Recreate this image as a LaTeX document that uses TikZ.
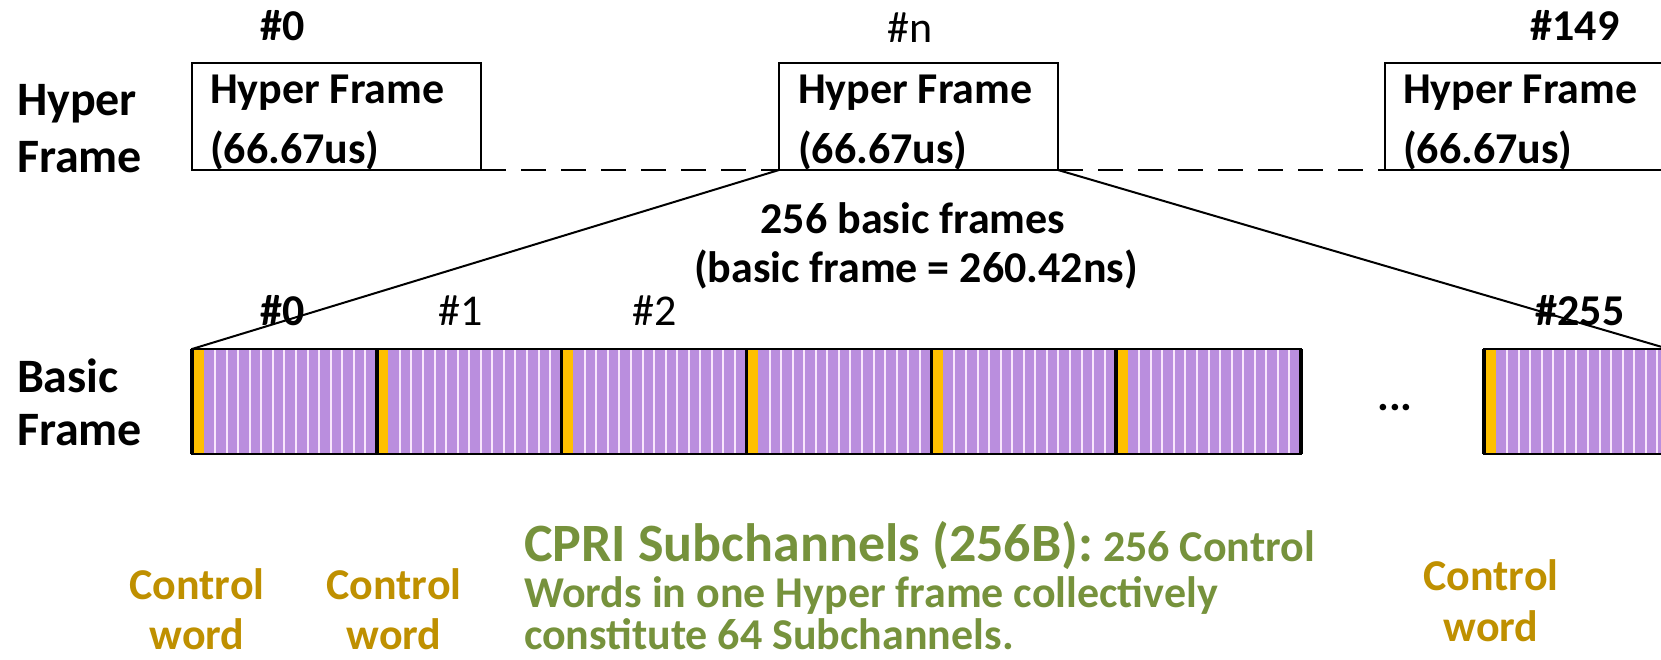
\documentclass[tikz,border=0pt]{standalone}
\usepackage{fontspec}
\setmainfont{Carlito}
\definecolor{wordpurple}{RGB}{186,142,222}
\definecolor{ctrlyellow}{RGB}{255,192,0}
\definecolor{stripe}{RGB}{248,230,252}
\definecolor{ctrlgold}{RGB}{191,144,0}
\definecolor{cprigreen}{RGB}{118,146,60}
\begin{document}
\begin{tikzpicture}[x=1pt,y=-1pt,
  every node/.style={inner sep=0pt,outer sep=0pt},
  big/.style={font=\fontsize{44}{53}\selectfont\bfseries},
  rowlabel/.style={font=\fontsize{48}{58}\selectfont\bfseries,anchor=base west},
  plain/.style={font=\fontsize{44}{53}\selectfont},
  hbox/.style={draw,line width=2.2pt,minimum height=107pt,anchor=north west},
  bframe/.style={fill=wordpurple,minimum width=184.83pt,minimum height=105pt,anchor=north west},
  conn/.style={line width=2pt},
  dashline/.style={line width=2.6pt,dash pattern=on 25pt off 15pt},
  gold/.style={big,text=ctrlgold,align=center},
  green/.style={big,text=cprigreen,anchor=base west}]
\useasboundingbox (0,0) rectangle (1661,659);
\clip (0,0) rectangle (1661,659);

% row titles
\node[rowlabel] (hyA) at (17,115) {Hyper};
\node[rowlabel] (hyB) at (17,172) {Frame};
\node[rowlabel] (baA) at (17,392) {Basic};
\node[rowlabel] (baB) at (17,445) {Frame};

% hyper frames
\node[hbox,minimum width=289pt] (hf0) at (192,63) {};
\node[hbox,minimum width=279pt] (hfn) at (779,63) {};
\node[hbox,minimum width=279pt] (hf149) at (1385,63) {};
\node[big,anchor=base] (hf0num) at (283,40) {\#0};
\node[plain,anchor=base] (hfnnum) at (910,42) {\#n};
\node[big,anchor=base] (hf149num) at (1575,40) {\#149};
\foreach \b/\x in {hf0/210,hfn/798,hf149/1403}{
  \node[big,anchor=base west] (\b t1) at (\x,103) {Hyper Frame};
  \node[big,anchor=base west] (\b t2) at (\x,163) {(66.67us)};
}
\draw[dashline] (hf0.south east) -- (hfn.south west);
\draw[dashline] (hfn.south east) -- (hf149.south west);

% basic frames: one control word followed by fifteen data words
\foreach \i in {0,...,5}{
  \node[bframe] (bf\i) at ({192+184.83*\i},349) {};
}
\node[bframe] (bf255) at (1484,349) {};
\foreach \n in {bf0,bf1,bf2,bf3,bf4,bf5,bf255}{
  \fill[ctrlyellow] (\n.north west) rectangle ([xshift=11.5]\n.south west);
  \foreach \k in {2,...,15}
    \fill[stripe] ([xshift={\k*11.552-1}]\n.north west) rectangle ([xshift={\k*11.552+1}]\n.south west);
}
\draw[line width=2pt] (bf0.north west) rectangle (bf5.south east);
\draw[line width=2pt] (bf255.south east) -- (bf255.south west) -- (bf255.north west) -- (bf255.north east);
\foreach \n in {bf0,bf1,bf2,bf3,bf4,bf5,bf255}
  \draw[line width=3.5pt] (\n.north west) -- (\n.south west);
\draw[line width=3.5pt] (bf5.north east) -- (bf5.south east);

\node[big,anchor=base] (bf0num) at (283,325) {\#0};
\node[plain,anchor=base] (bf1num) at (461,325) {\#1};
\node[plain,anchor=base] (bf2num) at (655,325) {\#2};
\node[big,anchor=base] (bf255num) at (1580,325) {\#255};
\node[big,anchor=base] (dots) at (1395,410) {...};

% zoom from hyper frame #n to its basic frames
\draw[conn] (hfn.south west) -- (bf0.north west);
\draw[conn] (hfn.south east) -- (bf255.north east);
\node[big,anchor=base] (cnt1) at (913,233) {256 basic frames};
\node[big,anchor=base] (cnt2) at (916,282) {(basic frame = 260.42ns)};

% control word captions
\node[gold,anchor=base] (cw1a) at (197,599) {Control};
\node[gold,anchor=base] (cw1b) at (197,649) {word};
\node[gold,anchor=base] (cw2a) at (394,599) {Control};
\node[gold,anchor=base] (cw2b) at (394,649) {word};
\node[gold,anchor=base] (cw3a) at (1491,590) {Control};
\node[gold,anchor=base] (cw3b) at (1491,641) {word};

% CPRI subchannel note
\node[green] (sub1) at (524,561) {{\fontsize{54}{65}\selectfont CPRI Subchannels (256B):} 256 Control};
\node[green] (sub2) at (524,607) {Words in one Hyper frame collectively};
\node[green] (sub3) at (524,649) {constitute 64 Subchannels.};
\end{tikzpicture}
\end{document}
